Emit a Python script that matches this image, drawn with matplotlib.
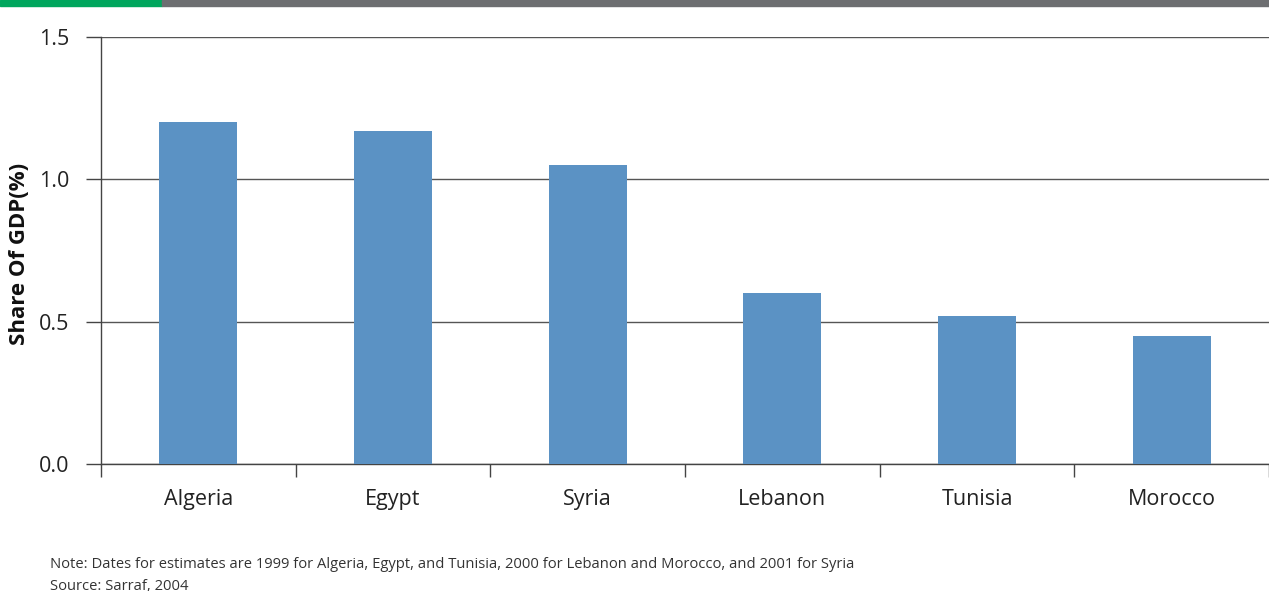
import matplotlib.pyplot as plt
import numpy as np
from matplotlib.ticker import FixedLocator

countries = ["Algeria", "Egypt", "Syria", "Lebanon", "Tunisia", "Morocco"]
share_gdp = [1.20, 1.17, 1.05, 0.60, 0.52, 0.45]
y_ticks = [0.0, 0.5, 1.0, 1.5]

note = "Note: Dates for estimates are 1999 for Algeria, Egypt, and Tunisia, 2000 for Lebanon and Morocco, and 2001 for Syria"
source = "Source: Sarraf, 2004"

plt.rcParams["font.family"] = ["Open Sans", "DejaVu Sans"]

fig = plt.figure(figsize=(12.69, 5.91), dpi=100)
ax = fig.add_axes([0.0796, 0.2149, 0.9204, 0.7225])

x = np.arange(len(countries))
ax.bar(x, share_gdp, width=0.4, color="#5B92C4", zorder=3)

ax.set_xlim(-0.5, len(countries) - 0.5)
ax.set_ylim(0, 1.5)
ax.set_yticks(y_ticks)
ax.set_yticklabels([f"{v:.1f}" for v in y_ticks], fontsize=15.5, color="#222222")
ax.set_xticks(x)
ax.set_xticklabels(countries, fontsize=15.5, color="#222222")
ax.xaxis.set_minor_locator(FixedLocator(np.arange(-0.5, len(countries), 1.0)))
ax.tick_params(axis="x", which="major", length=0, pad=18)
ax.tick_params(axis="x", which="minor", length=9, width=1, color="#444444")
ax.tick_params(axis="y", length=11, width=1, color="#444444", pad=12)

ax.yaxis.grid(True, color="#555555", linewidth=1, zorder=0)
for s in ["top", "right"]:
    ax.spines[s].set_visible(False)
for s in ["left", "bottom"]:
    ax.spines[s].set_color("#444444")
    ax.spines[s].set_linewidth(1)

# y label placed in figure coords so it is not clipped
fig.text(20 / 1269, 1 - 254 / 591, "Share Of GDP(%)", fontsize=16, fontweight="bold",
         rotation=90, ha="center", va="center", color="#111111")

# header strip
fig.add_artist(plt.Rectangle((0, 0.99), 162 / 1269, 0.01, color="#00A65D", transform=fig.transFigure))
fig.add_artist(plt.Rectangle((162 / 1269, 0.99), 1 - 162 / 1269, 0.01, color="#6D6E71", transform=fig.transFigure))

fig.text(50 / 1269, 1 - 565 / 591, note, fontsize=10.6, color="#333333", va="center")
fig.text(50 / 1269, 1 - 586 / 591, source, fontsize=10.6, color="#333333", va="center")

fig.savefig("out.png", dpi=100)
